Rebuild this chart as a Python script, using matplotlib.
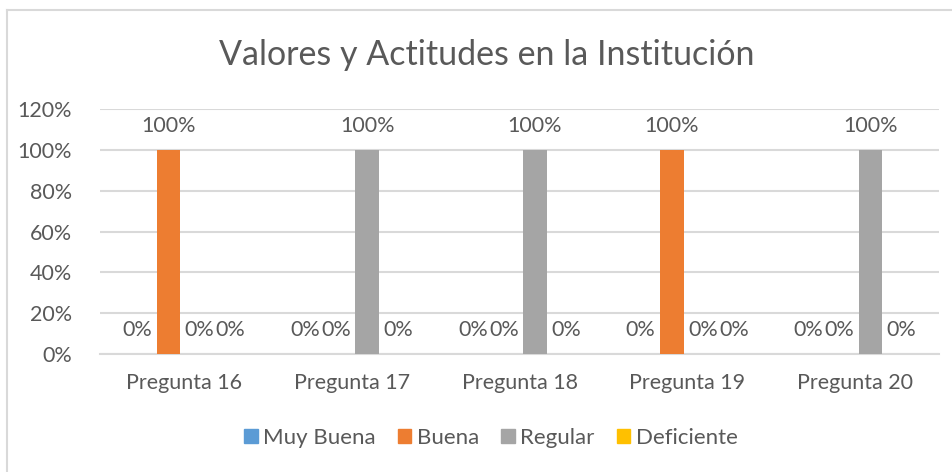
import numpy as np
import matplotlib
matplotlib.use("Agg")
import matplotlib.pyplot as plt
from matplotlib.lines import Line2D
from matplotlib.patches import Patch

plt.rcParams["font.family"] = ["Lato", "DejaVu Sans"]

categories = ["Pregunta 16", "Pregunta 17", "Pregunta 18", "Pregunta 19", "Pregunta 20"]
series = ["Muy Buena", "Buena", "Regular", "Deficiente"]
muy_buena = [0, 0, 0, 0, 0]
buena = [100, 0, 0, 100, 0]
regular = [0, 100, 100, 0, 100]
deficiente = [0, 0, 0, 0, 0]
values = [muy_buena, buena, regular, deficiente]
colors = ["#5b9bd5", "#ed7d31", "#a5a5a5", "#ffc000"]

TXT = "#595959"
GRID = "#d9d9d9"
FS = 15.5

fig = plt.figure(figsize=(9.53, 4.72), dpi=100)
ax = fig.add_axes([100 / 953, 1 - 354 / 472, 839 / 953, 245 / 472])

x = np.arange(len(categories))
w = 0.14
pitch = 0.185
for i, (name, vals, c) in enumerate(zip(series, values, colors)):
    pos = x + (i - 1.5) * pitch
    ax.bar(pos, vals, width=w, color=c, label=name, zorder=3)
    for px, v in zip(pos, vals):
        ax.annotate(f"{v}%", (px, v), xytext=(0, 17.5), textcoords="offset points",
                    ha="center", va="center", fontsize=FS, color=TXT)

ax.set_xlim(-0.5, len(categories) - 0.5)
ax.set_ylim(0, 120)
ax.set_yticks(range(0, 121, 20))
ax.set_yticklabels([f"{t}%" for t in range(0, 121, 20)])
ax.set_xticks(x)
ax.set_xticklabels(categories)
ax.yaxis.grid(True, color=GRID, lw=1.5, zorder=0)
ax.tick_params(length=0, labelsize=FS, labelcolor=TXT)
ax.tick_params(axis="x", pad=14)
ax.tick_params(axis="y", pad=20)
for s in ["top", "right", "left"]:
    ax.spines[s].set_visible(False)
ax.spines["bottom"].set_color(GRID)
ax.spines["bottom"].set_linewidth(1.5)

fig.text(487 / 953, 1 - 55 / 472, "Valores y Actitudes en la Institución",
         ha="center", va="center", fontsize=24.5, color=TXT)

handles = [Patch(color=c) for c in colors]
fig.legend(handles, series, loc="center", bbox_to_anchor=(491 / 953, 1 - 438 / 472),
           ncol=4, frameon=False, fontsize=16, handlelength=0.6, handleheight=0.6,
           handletextpad=0.25, columnspacing=1.0, labelcolor=TXT)

# chart area border (top and left only visible)
fig.add_artist(Line2D([7 / 953, 7 / 953], [0, 1 - 10 / 472], transform=fig.transFigure,
                      color=GRID, lw=1.5))
fig.add_artist(Line2D([7 / 953, 1], [1 - 10 / 472, 1 - 10 / 472], transform=fig.transFigure,
                      color=GRID, lw=1.5))

fig.savefig("out.png", dpi=100)
